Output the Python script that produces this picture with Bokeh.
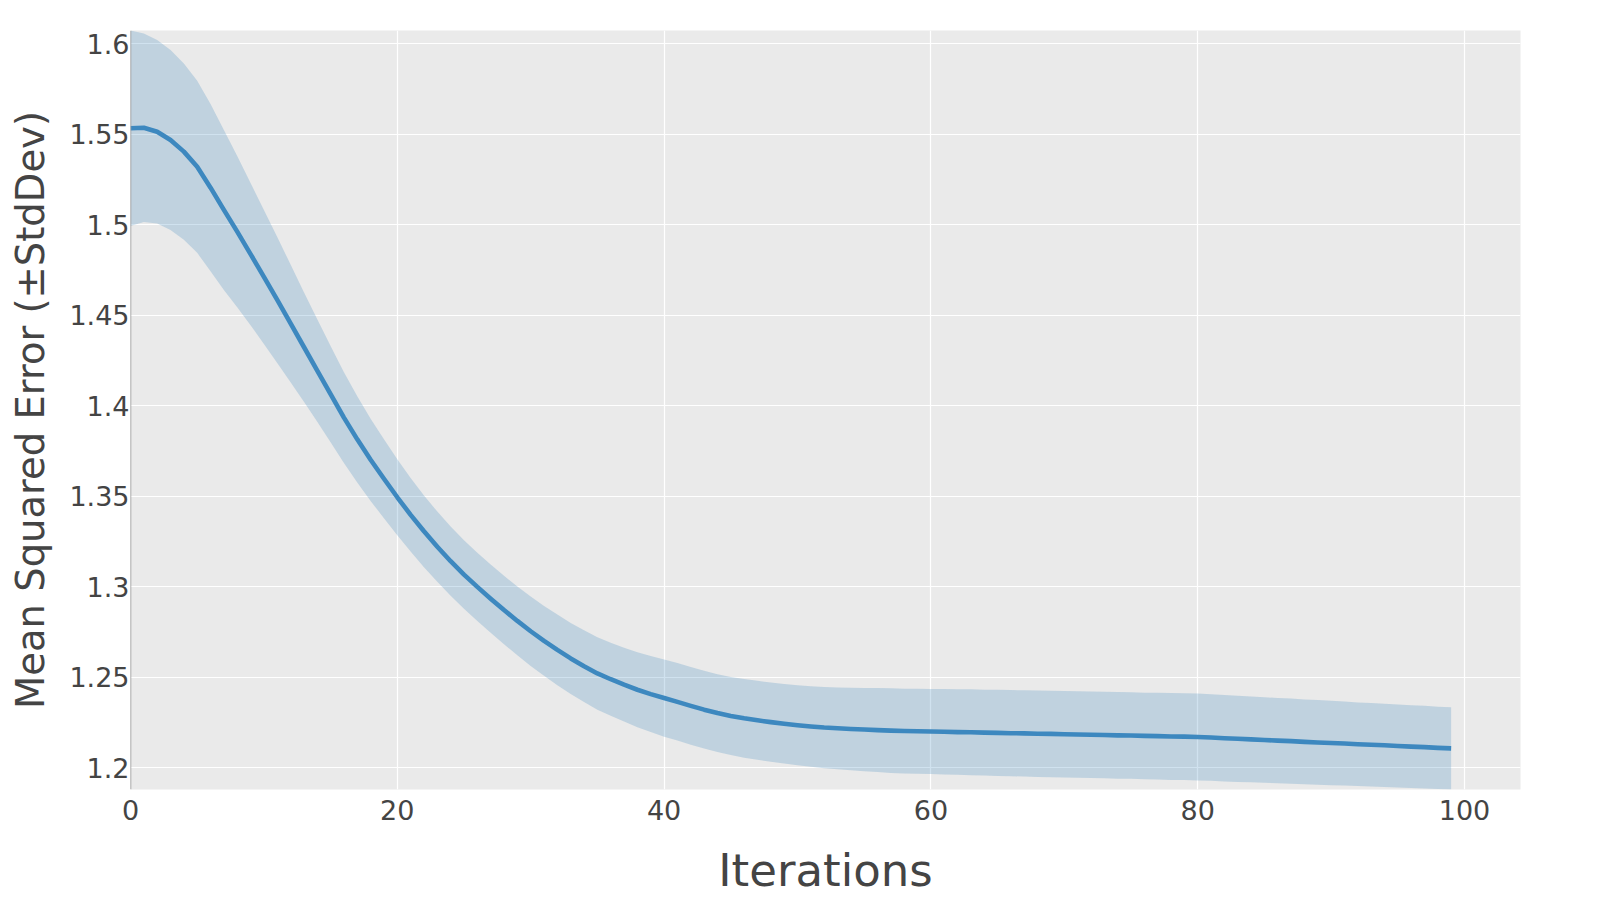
from bokeh.plotting import figure
from bokeh.models import Range1d, FixedTicker, CustomJSTickFormatter, Span, ColumnDataSource
from bokeh.embed import file_html
from bokeh.resources import INLINE

iterations = list(range(100))

mean_mse = [
    1.5533, 1.5536, 1.5514, 1.5468, 1.5404, 1.5320, 1.5205, 1.5082, 1.4962, 1.4838,
    1.4712, 1.4585, 1.4455, 1.4325, 1.4195, 1.4065, 1.3935, 1.3815, 1.3702, 1.3597,
    1.3495, 1.3398, 1.3307, 1.3222, 1.3142, 1.3068, 1.3000, 1.2935, 1.2872, 1.2812,
    1.2755, 1.2702, 1.2652, 1.2605, 1.2562, 1.2522, 1.2490, 1.2460, 1.2432, 1.2408,
    1.2386, 1.2365, 1.2343, 1.2322, 1.2303, 1.2287, 1.2274, 1.2263, 1.2253, 1.2244,
    1.2236, 1.2229, 1.2223, 1.2219, 1.2215, 1.2212, 1.2209, 1.2206, 1.2204, 1.2203,
    1.2201, 1.2200, 1.2198, 1.2197, 1.2195, 1.2194, 1.2192, 1.2191, 1.2189, 1.2188,
    1.2186, 1.2185, 1.2183, 1.2182, 1.2180, 1.2179, 1.2177, 1.2176, 1.2174, 1.2173,
    1.2171, 1.2168, 1.2164, 1.2161, 1.2158, 1.2154, 1.2151, 1.2148, 1.2144, 1.2141,
    1.2138, 1.2135, 1.2131, 1.2128, 1.2125, 1.2121, 1.2118, 1.2115, 1.2111, 1.2108,
]

std_mse = [
    0.0540, 0.0521, 0.0507, 0.0497, 0.0487, 0.0475, 0.0462, 0.0442, 0.0418, 0.0393,
    0.0370, 0.0348, 0.0325, 0.0303, 0.0283, 0.0266, 0.0251, 0.0238, 0.0227, 0.0218,
    0.0210, 0.0203, 0.0198, 0.0194, 0.0191, 0.0189, 0.0188, 0.0188, 0.0189, 0.0190,
    0.0192, 0.0193, 0.0195, 0.0196, 0.0198, 0.0200, 0.0202, 0.0204, 0.0207, 0.0210,
    0.0213, 0.0214, 0.0215, 0.0215, 0.0215, 0.0216, 0.0217, 0.0218, 0.0219, 0.0220,
    0.0221, 0.0222, 0.0224, 0.0226, 0.0228, 0.0230, 0.0232, 0.0234, 0.0234, 0.0235,
    0.0235, 0.0236, 0.0236, 0.0237, 0.0237, 0.0238, 0.0238, 0.0238, 0.0239, 0.0239,
    0.0239, 0.0239, 0.0239, 0.0239, 0.0239, 0.0239, 0.0239, 0.0240, 0.0240, 0.0240,
    0.0240, 0.0239, 0.0239, 0.0238, 0.0237, 0.0236, 0.0236, 0.0235, 0.0234, 0.0234,
    0.0233, 0.0232, 0.0231, 0.0231, 0.0230, 0.0229, 0.0229, 0.0228, 0.0227, 0.0227,
]

x_ticks = [0, 20, 40, 60, 80, 100]
y_ticks = [1.2, 1.25, 1.3, 1.35, 1.4, 1.45, 1.5, 1.55, 1.6]

x_title = "Iterations"
y_title = "Mean Squared Error (±StdDev)"

upper = [m + s for m, s in zip(mean_mse, std_mse)]
lower = [m - s for m, s in zip(mean_mse, std_mse)]

src = ColumnDataSource(dict(x=iterations, mean=mean_mse, upper=upper, lower=lower))

FONT = "DejaVu Sans"
TXT = "#444444"

p = figure(
    width=1600, height=900,
    output_backend="svg", toolbar_location=None,
    x_range=Range1d(0, 104.2),
    y_range=Range1d(min(lower), max(upper)),
    min_border_left=130, min_border_right=80, min_border_top=30, min_border_bottom=111,
    background_fill_color="#EAEAEA", border_fill_color="white",
)
p.outline_line_color = None

p.varea(x="x", y1="lower", y2="upper", source=src,
        fill_color=(68, 138, 191), fill_alpha=0.25)
p.line(x="x", y="mean", source=src, line_color="#3D88BF", line_width=4.6,
       line_join="round")

p.add_layout(Span(location=0, dimension="height", line_color="#969696", line_width=1.5))

p.xaxis.ticker = FixedTicker(ticks=x_ticks)
p.yaxis.ticker = FixedTicker(ticks=y_ticks)
p.yaxis.formatter = CustomJSTickFormatter(code="return String(Math.round(tick*100)/100);")

for ax in (p.xaxis[0], p.yaxis[0]):
    ax.axis_line_color = None
    ax.major_tick_line_color = None
    ax.minor_tick_line_color = None
    ax.major_tick_out = 0
    ax.major_tick_in = 0
    ax.minor_tick_out = 0
    ax.major_label_text_font = FONT
    ax.major_label_text_color = TXT
    ax.major_label_text_font_size = "27px"
    ax.axis_label_text_font = FONT
    ax.axis_label_text_color = TXT
    ax.axis_label_text_font_style = "normal"

p.xaxis.axis_label = x_title
p.xaxis.axis_label_text_font_size = "45px"
p.xaxis.major_label_standoff = 10
p.xaxis.axis_label_standoff = 21

p.yaxis.axis_label = y_title
p.yaxis.axis_label_text_font_size = "38.5px"
p.yaxis.major_label_standoff = 1
p.yaxis.axis_label_standoff = 13

p.xgrid.grid_line_color = "white"
p.ygrid.grid_line_color = "white"
p.xgrid.grid_line_width = 1.2
p.ygrid.grid_line_width = 1.2

open("out.html", "w").write(file_html(p, INLINE))
